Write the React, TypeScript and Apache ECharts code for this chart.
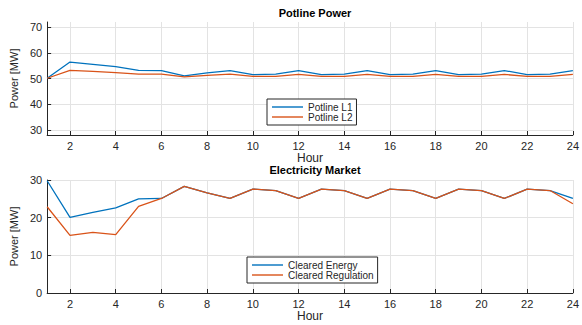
import React, { useEffect, useRef } from "react";
import * as echarts from "echarts";

const hours = [1,2,3,4,5,6,7,8,9,10,11,12,13,14,15,16,17,18,19,20,21,22,23,24];
const potlineL1 = [50.1,56.4,55.5,54.6,53.2,53.1,51.0,52.2,53.1,51.5,51.7,53.1,51.5,51.7,53.1,51.5,51.7,53.1,51.5,51.7,53.1,51.5,51.7,53.1];
const potlineL2 = [50.1,53.2,52.8,52.3,51.7,51.7,50.6,51.2,51.7,50.8,50.8,51.6,50.8,50.8,51.6,50.8,50.8,51.6,50.8,50.8,51.6,50.8,50.8,51.6];
const clearedEnergy = [29.8,20.1,21.4,22.6,25.0,25.1,28.3,26.6,25.1,27.6,27.2,25.1,27.6,27.2,25.1,27.6,27.2,25.1,27.6,27.2,25.1,27.6,27.2,25.1];
const clearedRegulation = [22.9,15.3,16.1,15.5,23.0,25.1,28.3,26.6,25.1,27.6,27.2,25.1,27.6,27.2,25.1,27.6,27.2,25.1,27.6,27.2,25.1,27.6,27.2,23.7];
const xTicks = [2,4,6,8,10,12,14,16,18,20,22,24];
const yTicksTop = [30,40,50,60,70];
const yTicksBottom = [0,10,20,30];

const AX = "#262626";
const GRID = "#e3e3e3";
const FONT = "'Liberation Sans', Arial, sans-serif";
const BLUE = "#0072BD";
const ORANGE = "#D95319";

function xAxis(gridIndex: number) {
  return {
    type: "value", gridIndex, min: 1, max: 24,
    name: "Hour", nameLocation: "middle", nameGap: 16,
    nameTextStyle: { color: AX, fontSize: 12, fontFamily: FONT },
    axisLine: { show: true, lineStyle: { color: AX, width: 1 } },
    axisTick: { show: true, inside: true, length: 4, customValues: xTicks, lineStyle: { color: AX } },
    axisLabel: { customValues: xTicks, color: AX, fontSize: 11, fontFamily: FONT, margin: 5 },
    splitLine: { show: true, lineStyle: { color: GRID, width: 1 } },
  };
}
function yAxis(gridIndex: number, min: number, max: number, ticks: number[]) {
  return {
    type: "value", gridIndex, min, max,
    name: "Power [MW]", nameLocation: "middle", nameGap: 23,
    nameTextStyle: { color: AX, fontSize: 11, fontFamily: FONT },
    axisLine: { show: true, lineStyle: { color: AX, width: 1 } },
    axisTick: { show: true, inside: true, length: 4, customValues: ticks, lineStyle: { color: AX } },
    axisLabel: { customValues: ticks, color: AX, fontSize: 11, fontFamily: FONT, margin: 5 },
    splitLine: { show: true, lineStyle: { color: GRID, width: 1 } },
  };
}
function line(name: string, data: number[], color: string, xi: number) {
  return {
    name, type: "line", xAxisIndex: xi, yAxisIndex: xi,
    data: hours.map((h, i) => [h, data[i]]),
    symbol: "none", showSymbol: false, lineStyle: { color, width: 1.3 }, itemStyle: { color },
  };
}
function legend(names: string[], left: number, top: number) {
  return {
    data: names.map((n) => ({ name: n, icon: "rect" })), orient: "vertical", left, top,
    borderColor: AX, borderWidth: 1, backgroundColor: "#fff",
    padding: [3, 4, 3, 5], itemGap: 0, itemWidth: 31, itemHeight: 1.4,
    textStyle: { color: AX, fontSize: 10, lineHeight: 10, fontFamily: FONT },
  };
}

export default function App() {
  const ref = useRef<HTMLDivElement>(null);
  useEffect(() => {
    const chart = echarts.init(ref.current!, null, { renderer: "svg" });
    chart.setOption({
      animation: false,
      backgroundColor: "#fff",
      title: [
        { text: "Potline Power", left: 310, top: 2, textAlign: "center",
          textStyle: { fontSize: 11, fontWeight: "bold", color: "#000", fontFamily: FONT } },
        { text: "Electricity Market", left: 310, top: 159, textAlign: "center",
          textStyle: { fontSize: 11, fontWeight: "bold", color: "#000", fontFamily: FONT } },
      ],
      grid: [
        { left: 43, right: 5, top: 22, height: 113 },
        { left: 43, right: 5, top: 180, height: 113 },
      ],
      xAxis: [xAxis(0), xAxis(1)],
      yAxis: [yAxis(0, 28, 72, yTicksTop), yAxis(1, 0, 30, yTicksBottom)],
      legend: [
        legend(["Potline L1", "Potline L2"], 267, 99),
        legend(["Cleared Energy", "Cleared Regulation"], 247, 257),
      ],
      series: [
        line("Potline L1", potlineL1, BLUE, 0),
        line("Potline L2", potlineL2, ORANGE, 0),
        line("Cleared Energy", clearedEnergy, BLUE, 1),
        line("Cleared Regulation", clearedRegulation, ORANGE, 1),
      ],
    });
    return () => chart.dispose();
  }, []);
  return <div ref={ref} style={{ position: "fixed", left: 0, top: 0, width: 582, height: 325 }} />;
}
